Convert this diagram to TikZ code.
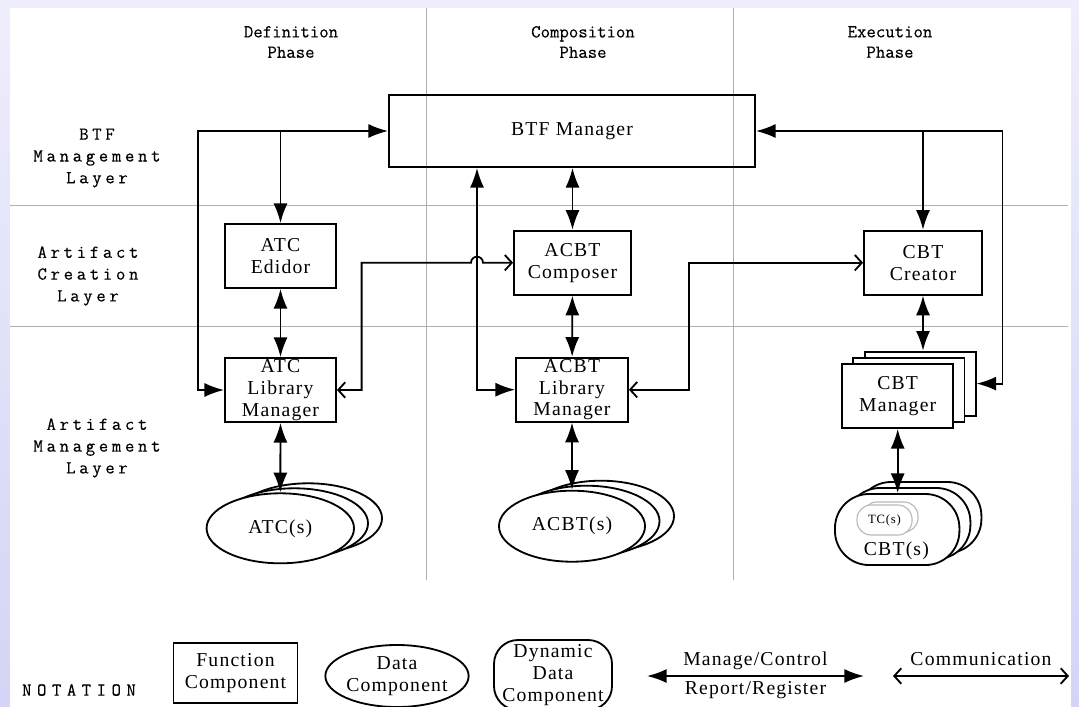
\documentclass[tikz,border=0pt]{standalone}
\usepackage{fontspec}
\setmainfont{Liberation Serif}[LetterSpace=6]
\newfontfamily\phasemono{Latin Modern Mono}[FakeBold=0.3]
\newfontfamily\widemono{Latin Modern Mono}[LetterSpace=20,FakeBold=0.3]
\newfontfamily\notemono{Latin Modern Mono}[LetterSpace=30,FakeBold=0.3]
\usetikzlibrary{calc,shapes,arrows.meta}

\definecolor{slide}{RGB}{238,238,252}
\definecolor{slidedark}{RGB}{212,212,246}
\definecolor{divider}{RGB}{175,175,175}

\tikzset{
  fbox/.style={draw, line width=1.3pt, align=center, inner sep=0pt,
    font=\fontsize{14}{15.5}\selectfont},
  dbox/.style={ellipse, draw, line width=1.3pt, fill=white, align=center, inner sep=0pt,
    font=\fontsize{14}{15.5}\selectfont},
  ddbox/.style={draw, line width=1.3pt, fill=white, rounded corners=0.85cm, align=center,
    inner sep=0pt, font=\fontsize{14}{15.5}\selectfont},
  phase/.style={align=center, font=\phasemono\fontsize{13}{14.5}\selectfont},
  layer/.style={align=center, font=\widemono\fontsize{13}{15.5}\selectfont},
  mgr/.style={line width=1.3pt, {Latex[length=14pt,width=10pt]}-{Latex[length=14pt,width=10pt]}},
  mgrto/.style={line width=1.3pt, -{Latex[length=14pt,width=10pt]}},
  comm/.style={line width=1.3pt, {Straight Barb[length=5pt,width=11pt]}-{Straight Barb[length=5pt,width=11pt]}},
  divide/.style={draw=divider, line width=0.7pt}
}

\begin{document}
\begin{tikzpicture}[x=0.025cm, y=-0.025cm]
    \useasboundingbox (0,0) rectangle (1079,706);
    \fill[slide] (0,0) rectangle (1079,706);
    \shade[top color=slide, bottom color=slidedark] (0,0) rectangle (10,706);
    \shade[top color=slide, bottom color=slidedark] (1071,0) rectangle (1079,706);
    \fill[white] (10,7.5) rectangle (1071,706);

    \draw[divide] (426,7.5) -- (426,580);
    \draw[divide] (733,7.5) -- (733,580);
    \draw[divide] (10,205) -- (1068,205);
    \draw[divide] (10,326) -- (1068,326);

    \node[phase] (defphase) at (291,42) {Definition\\Phase};
    \node[phase] (comphase) at (583,42) {Composition\\Phase};
    \node[phase] (exephase) at (890,42) {Execution\\Phase};
    \node[layer] (btflayer) at (97,158) {BTF\\Management\\Layer};
    \node[layer] (crelayer) at (88,276) {Artifact\\Creation\\Layer};
    \node[layer] (artlayer) at (97,448) {Artifact\\Management\\Layer};

    \node[fbox, minimum width=9.15cm, minimum height=1.8cm] (btf) at (572,131) {BTF Manager};
    \node[fbox, minimum width=2.775cm, minimum height=1.6cm] (atced) at (280.5,256) {ATC\\Edidor};
    \node[fbox, minimum width=2.775cm, minimum height=1.6cm] (atclib) at (280.5,390) {ATC\\Library\\Manager};
    \node[fbox, minimum width=2.925cm, minimum height=1.6cm] (acbtcomp) at (572.5,262.7) {ACBT\\Composer};
    \node[fbox, minimum width=2.8cm, minimum height=1.6cm] (acbtlib) at (572,389.7) {ACBT\\Library\\Manager};
    \node[fbox, minimum width=2.95cm, minimum height=1.6cm] (cbtcre) at (923,262.7) {CBT\\Creator};
    \node[fbox, fill=white, minimum width=2.775cm, minimum height=1.6cm] (cbtmgr3) at (920.1,383.6) {};
    \node[fbox, fill=white, minimum width=2.775cm, minimum height=1.6cm] (cbtmgr2) at (908.9,389.8) {};
    \node[fbox, fill=white, minimum width=2.775cm, minimum height=1.6cm] (cbtmgr) at (897.7,396) {CBT\\Manager};

    \node[dbox, minimum width=3.685cm, minimum height=1.75cm] (atcs3) at (308.3,518.3) {};
    \node[dbox, minimum width=3.685cm, minimum height=1.75cm] (atcs2) at (294.3,523.3) {};
    \node[dbox, minimum width=3.685cm, minimum height=1.75cm] (atcs) at (280.3,528.3) {ATC(s)};
    \node[dbox, minimum width=3.65cm, minimum height=1.775cm] (acbts3) at (601,516.2) {};
    \node[dbox, minimum width=3.65cm, minimum height=1.775cm] (acbts2) at (586.5,521.2) {};
    \node[dbox, minimum width=3.65cm, minimum height=1.775cm] (acbts) at (572,526.2) {ACBT(s)};
    \node[ddbox, minimum width=3.11cm, minimum height=1.775cm] (cbts3) at (919.2,517.5) {};
    \node[ddbox, minimum width=3.11cm, minimum height=1.775cm] (cbts2) at (908.2,523.5) {};
    \node[ddbox, minimum width=3.11cm, minimum height=1.775cm] (cbts) at (897.2,529.5) {};
    \node[draw=gray!55, line width=0.8pt, fill=white, rounded corners=0.35cm, minimum width=1.375cm,
        minimum height=0.75cm] (tcs2) at (890.5,517) {};
    \node[draw=gray!55, line width=0.8pt, fill=white, rounded corners=0.35cm, minimum width=1.375cm,
        minimum height=0.75cm, font=\fontsize{9}{10}\selectfont] (tcs) at (884.5,520) {TC(s)};
    \node[font=\fontsize{14}{15.5}\selectfont] (cbtslabel) at (896.4,551) {CBT(s)};

    \coordinate (lcorner) at (198,131);
    \coordinate (lbranch) at (atced.north |- btf.west);
    \coordinate (mcorner) at (477,389.7);
    \coordinate (rcorner) at (1002.5,131);
    \coordinate (rbranch) at (cbtcre.north |- btf.east);

    \draw[mgr] (atclib.west) -| (lcorner) -- (btf.west);
    \draw[mgrto] (lbranch) -- (atced.north);
    \draw[mgr] (atced) -- (atclib);
    \draw[mgr] (atclib.south) -- (atcs.north);
    \draw[comm] (atclib.east) -- (361.6,390) |- (471,262.7)
        arc[start angle=180, end angle=0, radius=0.15cm] -- (acbtcomp.west);
    \draw[mgr] (btf.south -| mcorner) -- (mcorner) -- (acbtlib.west);
    \draw[mgr] (btf.south -| acbtcomp.north) -- (acbtcomp.north);
    \draw[mgr] (acbtcomp) -- (acbtlib);
    \draw[mgr] (acbtlib.south) -- (acbts.north);
    \draw[comm] (acbtlib.east) -- (689,389.7) |- (cbtcre.west);
    \draw[mgr] (btf.east) -- (rcorner) |- (cbtmgr3.east);
    \draw[mgrto] (rbranch) -- (cbtcre.north);
    \draw[mgr] (cbtcre.south) -- (cbtcre.south |- cbtmgr3.north);
    \draw[mgr] (cbtmgr.south) -- (cbtmgr.south |- cbts.north);

    \node[font=\notemono\fontsize{13}{14}\selectfont] (notation) at (79,690) {NOTATION};
    \node[fbox, minimum width=3.1cm, minimum height=1.5cm] (fcomp) at (235.5,673) {Function\\Component};
    \node[dbox, minimum width=3.5cm, minimum height=1.55cm] (dcomp) at (397,676) {Data\\Component};
    \node[ddbox, rounded corners=0.6cm, minimum width=2.95cm, minimum height=1.75cm] (ddcomp) at (553,675) {Dynamic\\Data\\Component};
    \coordinate (mgrleft) at (647,676);
    \coordinate (mgrright) at (864,676);
    \coordinate (commleft) at (893,676);
    \coordinate (commright) at (1069,676);
    \draw[mgr] (mgrleft) -- (mgrright);
    \draw[comm] (commleft) -- (commright);
    \node[font=\fontsize{14}{15.5}\selectfont, above=1pt] (mgrtext) at ($(mgrleft)!0.5!(mgrright)$) {Manage/Control};
    \node[font=\fontsize{14}{15.5}\selectfont, below] (reptext) at ($(mgrleft)!0.5!(mgrright)$) {Report/Register};
    \node[font=\fontsize{14}{15.5}\selectfont, above=4pt] (commtext) at ($(commleft)!0.5!(commright)$) {Communication};
\end{tikzpicture}
\end{document}
